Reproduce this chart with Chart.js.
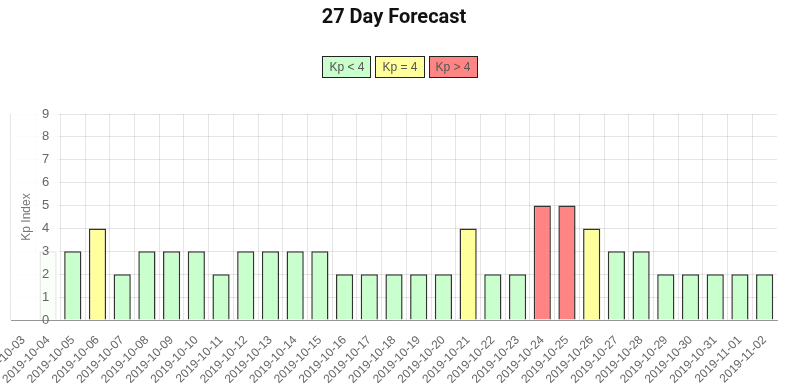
<!DOCTYPE html>
<html>
<head>
<meta charset="utf-8">
<script src="https://cdn.jsdelivr.net/npm/chart.js@4"></script>
<style>
  html, body { margin: 0; padding: 0; background: #fff; }
  #wrap { position: relative; width: 796px; height: 388px; }
  #legend {
    position: absolute; top: 56px; left: 2px; width: 796px;
    display: flex; justify-content: center; gap: 4px;
    font: 12px "Liberation Sans", Arial, sans-serif; color: #555;
  }
  #legend span {
    display: inline-block; height: 20px; line-height: 20px;
    padding: 0 6px; border: 1px solid #222;
  }
</style>
</head>
<body>
<div id="wrap">
  <canvas id="kpChart" width="796" height="388"></canvas>
  <div id="legend"></div>
</div>
<script>
// dates shown on the x axis
const days = [
    '2019-10-03', '2019-10-04', '2019-10-05', '2019-10-06', '2019-10-07', '2019-10-08',
    '2019-10-09', '2019-10-10', '2019-10-11', '2019-10-12', '2019-10-13', '2019-10-14',
    '2019-10-15', '2019-10-16', '2019-10-17', '2019-10-18', '2019-10-19', '2019-10-20',
    '2019-10-21', '2019-10-22', '2019-10-23', '2019-10-24', '2019-10-25', '2019-10-26',
    '2019-10-27', '2019-10-28', '2019-10-29', '2019-10-30', '2019-10-31', '2019-11-01',
    '2019-11-02'
];
// forecast Kp per day
const kpValues = [
    null, 3, 3, 4, 2, 3,
    3, 3, 2, 3, 3, 3,
    3, 2, 2, 2, 2, 2,
    4, 2, 2, 5, 5, 4,
    3, 3, 2, 2, 2, 2,
    2
];
const yTicks = [0, 1, 2, 3, 4, 5, 6, 7, 8, 9];
const legendNames = ['Kp < 4', 'Kp = 4', 'Kp > 4'];
const legendColors = ['#c9ffcc', '#ffff9c', '#ff8585'];

function kpColor(v) {
    if (v > 4) return legendColors[2];
    if (v === 4) return legendColors[1];
    return legendColors[0];
}

// legend as boxes with the text inside
const legendEl = document.getElementById('legend');
legendNames.forEach((name, i) => {
    const s = document.createElement('span');
    s.textContent = name;
    s.style.background = legendColors[i];
    legendEl.appendChild(s);
});

// past days (left of the y axis) are washed out
const pastShade = {
    id: 'pastShade',
    afterDatasetsDraw(chart) {
        const { ctx, chartArea, scales } = chart;
        const edge = scales.x.getPixelForValue(1.5);
        ctx.save();
        ctx.fillStyle = 'rgba(255,255,255,0.88)';
        ctx.fillRect(chartArea.left, chartArea.top - 1, edge - chartArea.left - 1, chartArea.bottom - chartArea.top + 1);
        ctx.restore();
    },
    afterDraw(chart) {
        const { ctx, chartArea } = chart;
        ctx.save();
        ctx.translate(27, (chartArea.top + chartArea.bottom) / 2);
        ctx.rotate(-Math.PI / 2);
        ctx.font = '12px "Liberation Sans", Arial, sans-serif';
        ctx.fillStyle = '#777';
        ctx.textAlign = 'center';
        ctx.textBaseline = 'middle';
        ctx.fillText('Kp Index', 0, 0);
        ctx.restore();
    }
};

const ctx = document.getElementById('kpChart').getContext('2d');
const kpChart = new Chart(ctx, {
    type: 'bar',
    data: {
        labels: days,
        datasets: [{
            data: kpValues,
            backgroundColor: kpValues.map(kpColor),
            borderColor: 'rgba(0,0,0,0.8)',
            borderWidth: 1.5,
            barPercentage: 0.87,
            categoryPercentage: 0.8
        }]
    },
    options: {
        responsive: false,
        animation: false,
        layout: { padding: { left: 11, right: 19, top: 0, bottom: 0 } },
        plugins: {
            legend: { display: false },
            tooltip: { enabled: false },
            title: {
                display: true,
                text: '27 Day Forecast',
                color: '#111',
                font: { family: 'Roboto', size: 20, weight: 'bold' },
                padding: { top: 6, bottom: 84 }
            }
        },
        scales: {
            x: {
                grid: {
                    color: c => c.index === undefined ? 'rgba(0,0,0,0)' : 'rgba(0,0,0,0.1)',
                    drawTicks: false
                },
                border: { color: 'rgba(0,0,0,0.35)', z: 1 },
                ticks: {
                    autoSkip: false,
                    minRotation: 45,
                    maxRotation: 45,
                    padding: 13,
                    color: '#666',
                    font: { family: 'Liberation Sans', size: 12 }
                },
                afterFit(scale) {
                    scale.paddingLeft = 0;
                    scale.paddingRight = 0;
                    scale.height = 68;
                }
            },
            y: {
                min: 0,
                max: 9,
                grid: { color: 'rgba(0,0,0,0.1)', drawTicks: false },
                border: { display: false },
                afterBuildTicks(scale) {
                    scale.ticks = yTicks.map(v => ({ value: v }));
                },
                ticks: {
                    mirror: true,
                    padding: 31,
                    z: 1,
                    color: '#666',
                    font: { family: 'Liberation Sans', size: 13 }
                },
                afterFit(scale) {
                    scale.width = 0;
                }
            }
        }
    },
    plugins: [pastShade]
});
</script>
</body>
</html>
